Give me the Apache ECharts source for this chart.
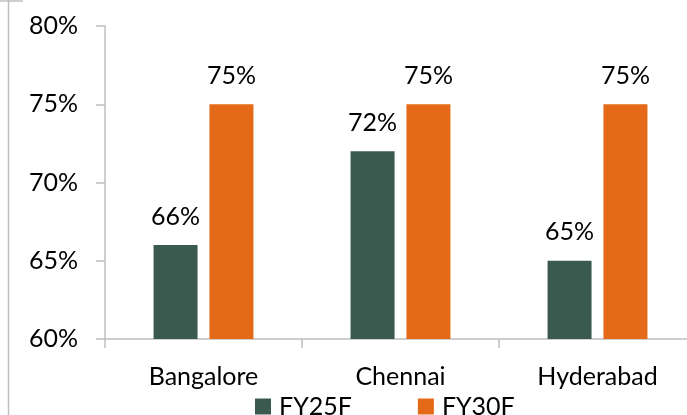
<!DOCTYPE html>
<html>
<head>
<meta charset="utf-8">
<script src="https://cdn.jsdelivr.net/npm/echarts@6/dist/echarts.min.js"></script>
<style>
  html, body { margin: 0; padding: 0; background: #fff; overflow: hidden; }
  #main { width: 710px; height: 415px; }
</style>
</head>
<body>
<div id="main"></div>
<script>
var cities = ['Bangalore', 'Chennai', 'Hyderabad']
var fy25 = [66, 72, 65]
var fy30 = [75, 75, 75]
var yTicks = [60, 65, 70, 75, 80]

var font = 'Lato'
var gray = '#bfbfbf'

// chart box is a bit wider than the window: the x axis runs past the right edge
var myChart = echarts.init(document.getElementById('main'))

var option = {
  animation: false,
  textStyle: { fontFamily: font },
  graphic: [
    { type: 'line', shape: { x1: 8.5, y1: 0, x2: 8.5, y2: 415 }, style: { stroke: gray, lineWidth: 1.5 } },
    { type: 'line', shape: { x1: 0, y1: 1, x2: 23, y2: 1 }, style: { stroke: gray, lineWidth: 1.5 } }
  ],
  legend: {
    data: ['FY25F', 'FY30F'],
    left: 255,
    top: 394,
    padding: 0,
    itemWidth: 16,
    itemHeight: 16,
    itemGap: 66,
    icon: 'rect',
    textStyle: { fontFamily: font, fontSize: 25, color: '#000', padding: [2, 0, 0, 3] }
  },
  grid: {
    left: 105,
    top: 26,
    width: 591,
    bottom: 76
  },
  xAxis: {
    type: 'category',
    data: cities,
    axisLine: { lineStyle: { color: gray, width: 1.5 } },
    axisTick: { show: true, length: 9, lineStyle: { color: gray, width: 1.5 } },
    axisLabel: { margin: 25, fontSize: 25, color: '#000', fontFamily: font }
  },
  yAxis: {
    type: 'value',
    min: yTicks[0],
    max: yTicks[yTicks.length - 1],
    interval: 5,
    splitLine: { show: false },
    axisLine: { show: true, lineStyle: { color: gray, width: 1.5 } },
    axisTick: { show: true, length: 9, lineStyle: { color: gray, width: 1.5 } },
    axisLabel: { margin: 27, fontSize: 25, color: '#000', fontFamily: font, formatter: '{value}%' }
  },
  series: [
    {
      name: 'FY25F',
      type: 'bar',
      data: fy25,
      barWidth: 44,
      barGap: '27%',
      itemStyle: { color: '#3b5a4f' },
      label: { show: true, position: 'top', distance: 16, fontSize: 25, color: '#000', fontFamily: font, formatter: '{c}%' }
    },
    {
      name: 'FY30F',
      type: 'bar',
      data: fy30,
      barWidth: 44,
      itemStyle: { color: '#e56a17' },
      label: { show: true, position: 'top', distance: 16, fontSize: 25, color: '#000', fontFamily: font, formatter: '{c}%' }
    }
  ]
}

myChart.setOption(option)
</script>
</body>
</html>
